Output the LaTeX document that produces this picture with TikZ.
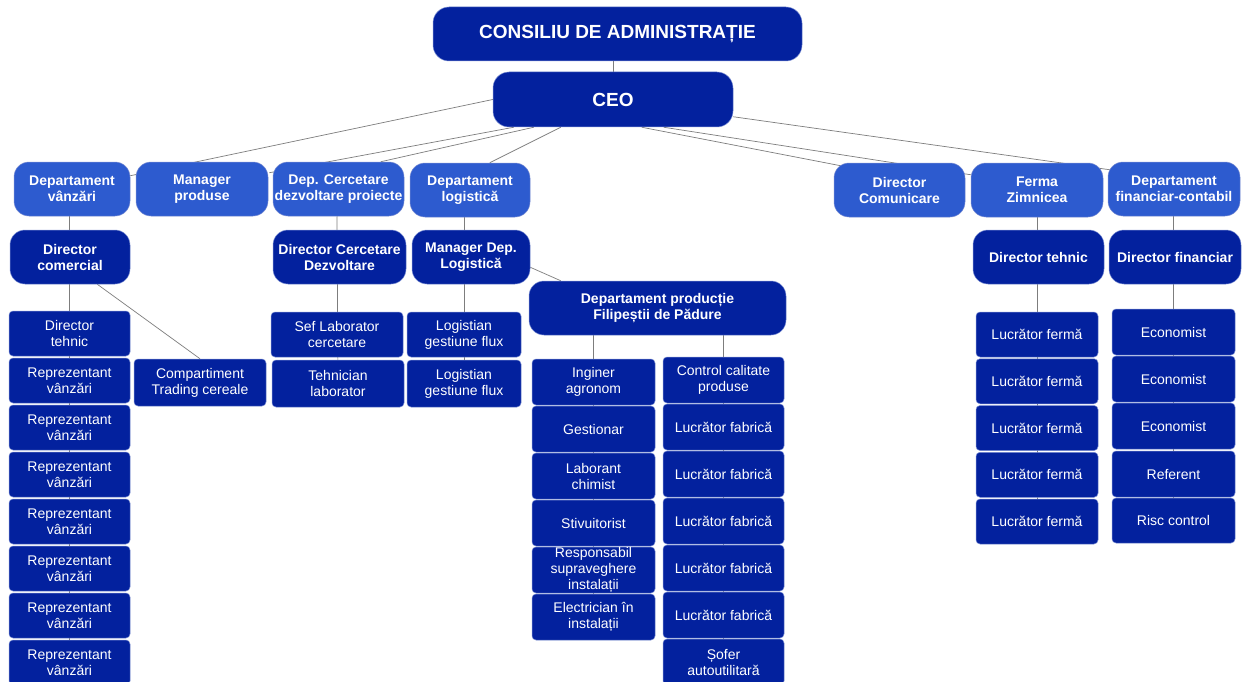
\documentclass[tikz,border=0pt]{standalone}
\usepackage{fontspec}
\setmainfont{Liberation Sans}
\usetikzlibrary{backgrounds,calc}
\definecolor{navy}{RGB}{3,33,158}
\definecolor{lblue}{RGB}{45,91,207}
\definecolor{rim}{RGB}{120,140,210}
\definecolor{wire}{RGB}{125,125,125}
\newcommand\mybox[7]{\node[#2, minimum width={(#5)-(#3)}, minimum height={(#6)-(#4)}] (#1) at ({((#3)+(#5))/2},{((#4)+(#6))/2}) {#7};}
\tikzset{
  base/.style={inner sep=0pt, align=center, text=white, draw=rim, line width=0.5pt},
  lightbox/.style={base, fill=lblue, rounded corners=15pt, font=\bfseries\fontsize{14}{16}\selectfont},
  darkbox/.style={base, fill=navy, rounded corners=15pt, font=\bfseries\fontsize{14}{16}\selectfont},
  topbox/.style={base, fill=navy, rounded corners=16pt, font=\bfseries\fontsize{19}{22}\selectfont},
  cell/.style={base, fill=navy, rounded corners=4pt, font=\fontsize{14}{16}\selectfont},
  link/.style={draw=wire, line width=0.7pt},
}
\begin{document}
\begin{tikzpicture}[x=1pt,y=-1pt]
\useasboundingbox (0,0) rectangle (1244,682);
% top
\mybox{cons}{topbox}{433}{7}{802}{61}{CONSILIU DE ADMINISTRAȚIE}
\mybox{ceo}{topbox}{493}{72}{733}{127}{CEO}
% departments
\mybox{dv}{lightbox}{14}{162}{130}{216}{Departament\\vânzări}
\mybox{mp}{lightbox}{136}{162}{268}{216}{Manager\\produse}
\mybox{dc}{lightbox}{273}{162}{404}{216}{Dep. Cercetare\\dezvoltare proiecte}
\mybox{dl}{lightbox}{410}{163}{530}{217}{Departament\\logistică}
\mybox{dcom}{lightbox}{834}{163}{965}{217}{Director\\Comunicare}
\mybox{fz}{lightbox}{971}{163}{1103}{217}{Ferma\\Zimnicea}
\mybox{dfc}{lightbox}{1108}{162}{1240}{216}{Departament\\financiar-contabil}
% directors
\mybox{dcm}{darkbox}{10}{230}{130}{284}{Director\\comercial}
\mybox{dcd}{darkbox}{273}{230}{406}{284}{Director Cercetare\\Dezvoltare}
\mybox{mdl}{darkbox}{412}{230}{530}{284}{Manager Dep.\\Logistică}
\mybox{dt}{darkbox}{973}{230}{1104}{284}{Director tehnic}
\mybox{df}{darkbox}{1109}{230}{1241}{284}{Director financiar}
\mybox{dp}{darkbox}{529}{281}{786}{335}{Departament producție\\Filipeștii de Pădure}
% sales column
\mybox{lc0}{cell}{9}{311}{130}{356}{Director\\tehnic}
\foreach \i in {1,...,7}{\mybox{lc\i}{cell}{9}{311+47*\i}{130}{356+47*\i}{Reprezentant\\vânzări}}
\mybox{ctc}{cell}{134}{359}{266}{406}{Compartiment\\Trading cereale}
% research
\mybox{slc}{cell}{271}{312}{403}{357}{Sef Laborator\\cercetare}
\mybox{tl}{cell}{272}{360}{404}{407}{Tehnician\\laborator}
% logistics
\mybox{lg1}{cell}{407}{312}{521}{357}{Logistian\\gestiune flux}
\mybox{lg2}{cell}{407}{360}{521}{407}{Logistian\\gestiune flux}
% production left
\mybox{pl1}{cell}{532}{359}{655}{405}{Inginer\\agronom}
\mybox{pl2}{cell}{532}{406}{655}{452}{Gestionar}
\mybox{pl3}{cell}{532}{453}{655}{499}{Laborant\\chimist}
\mybox{pl4}{cell}{532}{500}{655}{546}{Stivuitorist}
\mybox{pl5}{cell}{532}{547}{655}{593}{Responsabil\\supraveghere\\instalații}
\mybox{pl6}{cell}{532}{594}{655}{640}{Electrician în\\instalații}
% production right
\mybox{pr1}{cell}{663}{357}{784}{403}{Control calitate\\produse}
\foreach \i in {2,...,6}{\mybox{pr\i}{cell}{663}{357+47*(\i-1)}{784}{403+47*(\i-1)}{Lucrător fabrică}}
\mybox{pr7}{cell}{663}{639}{784}{685}{Șofer\\autoutilitară}
% farm
\foreach \i in {1,...,5}{\mybox{lf\i}{cell}{976}{312+46.75*(\i-1)}{1098}{357+46.75*(\i-1)}{Lucrător fermă}}
% finance
\mybox{ec1}{cell}{1112}{309}{1235}{355}{Economist}
\mybox{ec2}{cell}{1112}{356}{1235}{402}{Economist}
\mybox{ec3}{cell}{1112}{403}{1235}{449}{Economist}
\mybox{ec4}{cell}{1112}{451}{1235}{497}{Referent}
\mybox{ec5}{cell}{1112}{498}{1235}{543}{Risc control}
% connectors
\begin{pgfonlayer}{background}
\fill[white] (0,0) rectangle (1244,682);
\draw[link] (ceo.north) -- (ceo.north |- cons.south);
\draw[link] (ceo.west) -- ($(dv.north east)+(0,14)$);
\draw[link] ($(ceo.south west)+(21,0)$) -- ($(mp.north east)+(1,11)$);
\draw[link] ($(ceo.south west)+(41,0)$) -- ($(dc.north west)+(108,0)$);
\draw[link] ($(ceo.south west)+(68,0)$) -- ($(dl.north west)+(80,0)$);
\draw[link] ($(ceo.south west)+(149,0)$) -- ($(dcom.north west)+(7,3)$);
\draw[link] ($(ceo.south west)+(171,0)$) -- ($(fz.north west)+(0,12)$);
\draw[link] ($(ceo.north east)+(0,45)$) -- ($(dfc.north west)+(2,8)$);
\draw[link] (dv.south -| lc0.north) -- (lc7.center);
\draw[link] ($(dcm.south east)+(-33,0)$) -- (ctc.north);
\draw[link] (dc.south -| slc.north) -- (tl.center);
\draw[link] (dl.south -| lg1.north) -- (lg2.center);
\draw[link] ($(mdl.south east)+(0,-17)$) -- ($(dp.north west)+(32,0)$);
\draw[link] (dp.south -| pl1.north) -- (pl6.center);
\draw[link] (dp.south -| pr1.north) -- (pr7.center);
\draw[link] (fz.south -| lf1.north) -- (lf5.center);
\draw[link] (dfc.south -| ec1.north) -- (ec5.center);
\end{pgfonlayer}
\end{tikzpicture}
\end{document}
